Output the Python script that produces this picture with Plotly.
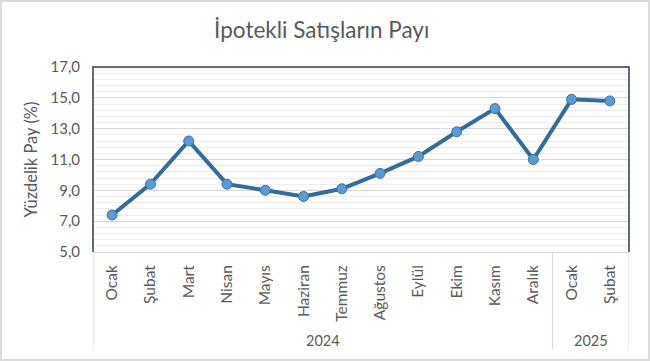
import plotly.graph_objects as go

months = ["Ocak", "Şubat", "Mart", "Nisan", "Mayıs", "Haziran", "Temmuz",
          "Ağustos", "Eylül", "Ekim", "Kasım", "Aralık", "Ocak", "Şubat"]
years = ["2024"] * 12 + ["2025"] * 2
values = [7.4, 9.4, 12.2, 9.4, 9.0, 8.6, 9.1, 10.1, 11.2, 12.8, 14.3, 11.0, 14.9, 14.8]
y_ticks = [5, 7, 9, 11, 13, 15, 17]

x = list(range(len(months)))
FONT = "Lato"
GREY = "#595959"

fig = go.Figure()
fig.add_trace(go.Scatter(
    x=x, y=values, mode="lines+markers",
    line=dict(color="#336b9e", width=4),
    marker=dict(size=10, color="#5b9bd5", line=dict(color="#3d70a0", width=1)),
    showlegend=False, hoverinfo="skip"))

# year groups
groups = []
for i, yv in enumerate(years):
    if not groups or groups[-1][0] != yv:
        groups.append([yv, i, i])
    else:
        groups[-1][2] = i

shapes = []
annotations = []
bounds = [-0.5] + [g[2] + 0.5 for g in groups]
for b in bounds:
    shapes.append(dict(type="line", xref="x", yref="paper", x0=b, x1=b,
                       y0=0, y1=-0.53, line=dict(color="#d9d9d9", width=1)))
for yv, a, b in groups:
    annotations.append(dict(text=yv, xref="x", yref="paper", x=(a + b) / 2,
                            y=-0.476, showarrow=False, yanchor="middle",
                            font=dict(family=FONT, size=14.5, color=GREY)))

# plot area border (left, top, right)
shapes.append(dict(type="path", xref="paper", yref="paper",
                   path="M 0 0 L 0 1 L 1 1 L 1 0",
                   line=dict(color="#2b3f56", width=1.5)))
# outer chart border
shapes.append(dict(type="rect", xref="paper", yref="paper",
                   x0=-92/536, x1=1 + 20/536, y0=-108/185, y1=1 + 66/185,
                   line=dict(color="#d9d9d9", width=2)))

fig.update_layout(
    width=650, height=361,
    margin=dict(l=93, r=21, t=67, b=109),
    paper_bgcolor="white", plot_bgcolor="white",
    separators=", ",
    title=dict(text="İpotekli Satışların Payı", x=0.495, xanchor="center",
               y=1 - 30/361, yanchor="middle",
               font=dict(family=FONT, size=22.5, color=GREY)),
    xaxis=dict(range=[-0.5, len(months) - 0.5], tickvals=x, ticktext=months,
               tickangle=-90, showgrid=False, zeroline=False,
               showline=True, linecolor="#d9d9d9", linewidth=1,
               ticks="", ticklabelstandoff=6, automargin=False,
               tickfont=dict(family=FONT, size=15.5, color=GREY)),
    yaxis=dict(range=[5, 17], tickvals=y_ticks, tickformat=".1f",
               showgrid=True, gridcolor="#d9d9d9", gridwidth=1,
               minor=dict(dtick=0.4, tick0=5, showgrid=True,
                          gridcolor="#eeeeee", gridwidth=1),
               zeroline=False, showline=False, ticks="",
               ticklabelstandoff=12, automargin=False,
               tickfont=dict(family=FONT, size=15, color=GREY),
               title=dict(text="Yüzdelik Pay (%)", standoff=8,
                          font=dict(family=FONT, size=16.5, color=GREY))),
    shapes=shapes, annotations=annotations,
)

fig.write_html("out.html", config={"displayModeBar": False},
               post_script="document.body.style.margin='0';document.body.style.overflow='hidden';")
